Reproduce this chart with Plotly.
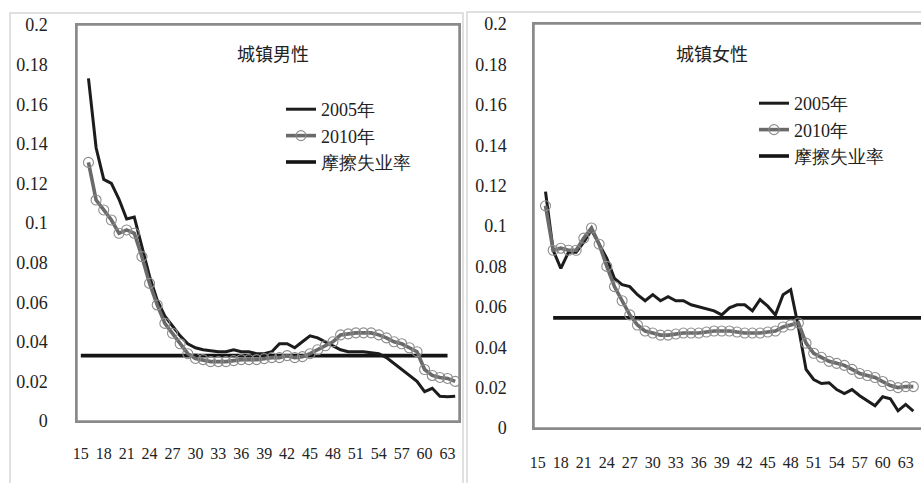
import plotly.graph_objects as go

W, H = 921, 483

ages = list(range(16, 65))

male_2005 = [0.173, 0.138, 0.122, 0.120, 0.112, 0.102, 0.103, 0.088, 0.073, 0.061,
             0.053, 0.048, 0.043, 0.039, 0.037, 0.036, 0.0355, 0.035, 0.035, 0.036,
             0.035, 0.035, 0.034, 0.034, 0.035, 0.039, 0.039, 0.037, 0.040, 0.043,
             0.042, 0.040, 0.038, 0.036, 0.035, 0.035, 0.035, 0.0345, 0.034, 0.032,
             0.029, 0.026, 0.023, 0.020, 0.0148, 0.0165, 0.0125, 0.0123, 0.0125]
male_2010 = [0.1306, 0.1116, 0.1066, 0.1015, 0.0948, 0.0965, 0.0948, 0.083, 0.0695, 0.0586,
             0.0493, 0.0443, 0.039, 0.034, 0.0316, 0.031, 0.030, 0.030, 0.030, 0.0305,
             0.031, 0.031, 0.031, 0.0315, 0.032, 0.032, 0.033, 0.032, 0.0325, 0.034,
             0.036, 0.038, 0.040, 0.0435, 0.044, 0.0445, 0.0445, 0.0445, 0.0435, 0.042,
             0.040, 0.039, 0.037, 0.035, 0.026, 0.023, 0.022, 0.0215, 0.020]
male_friction_ages = [15, 63]
male_friction = [0.033, 0.033]

female_2005 = [0.117, 0.088, 0.079, 0.087, 0.087, 0.092, 0.098, 0.091, 0.084, 0.074,
               0.071, 0.070, 0.066, 0.063, 0.066, 0.063, 0.065, 0.063, 0.063, 0.061,
               0.060, 0.059, 0.058, 0.056, 0.0595, 0.061, 0.061, 0.058, 0.0636, 0.0603,
               0.056, 0.066, 0.0685, 0.050, 0.029, 0.024, 0.022, 0.0224, 0.019, 0.017,
               0.019, 0.016, 0.0135, 0.011, 0.0155, 0.0145, 0.0085, 0.0117, 0.0084]
female_2010 = [0.110, 0.088, 0.089, 0.088, 0.088, 0.094, 0.099, 0.091, 0.080, 0.070,
               0.063, 0.056, 0.051, 0.048, 0.047, 0.046, 0.046, 0.0465, 0.047, 0.047,
               0.047, 0.0475, 0.048, 0.048, 0.048, 0.0475, 0.047, 0.047, 0.047, 0.0475,
               0.048, 0.050, 0.051, 0.052, 0.042, 0.037, 0.035, 0.033, 0.032, 0.031,
               0.029, 0.027, 0.026, 0.025, 0.023, 0.021, 0.020, 0.0205, 0.0205]
female_friction_ages = [17, 66]
female_friction = [0.0545, 0.0545]

x_tickvals = list(range(15, 64, 3))
y_tickvals = [0, 0.02, 0.04, 0.06, 0.08, 0.1, 0.12, 0.14, 0.16, 0.18, 0.2]
y_ticktext = ["0", "0.02", "0.04", "0.06", "0.08", "0.1", "0.12", "0.14", "0.16", "0.18", "0.2"]

names = ["2005年", "2010年", "摩擦失业率"]
titles = ["城镇男性", "城镇女性"]

C2005 = "#1c1c1c"
C2010 = "#6a6a6a"
CMARK = "#8c8c8c"
CFRIC = "#141414"
CFRAME = "#8a8a8a"

fig = go.Figure()

def add_panel(suffix, legend, y05, y10, fa, fv):
    xa = "x" + suffix
    ya = "y" + suffix
    fig.add_trace(go.Scatter(x=fa, y=fv, mode="lines", name=names[2],
                             line=dict(color=CFRIC, width=3.6), xaxis=xa, yaxis=ya,
                             legend=legend, legendrank=3))
    fig.add_trace(go.Scatter(x=ages, y=y05, mode="lines", name=names[0],
                             line=dict(color=C2005, width=3.0), xaxis=xa, yaxis=ya,
                             legend=legend, legendrank=1))
    fig.add_trace(go.Scatter(x=ages, y=y10, mode="lines+markers", name=names[1],
                             line=dict(color=C2010, width=3.6),
                             marker=dict(symbol="circle-open", size=10, color=CMARK,
                                         line=dict(width=1.1, color=CMARK)),
                             xaxis=xa, yaxis=ya, legend=legend, legendrank=2))

add_panel("", "legend", male_2005, male_2010, male_friction_ages, male_friction)
add_panel("2", "legend2", female_2005, female_2010, female_friction_ages, female_friction)

serif = "Liberation Serif"
cjk = "Liberation Serif"

def px_x(p):
    return p / W

def px_y(p):
    return 1 - p / H

def xaxis_style(ticklen):
    return dict(tickvals=x_tickvals, showgrid=False, zeroline=False,
                showline=True, mirror=True, linecolor=CFRAME, linewidth=1.5,
                automargin=False,
                ticks="outside", ticklen=ticklen, tickcolor="rgba(0,0,0,0)",
                tickfont=dict(family=serif, size=16, color="#222"))

def yaxis_style(ticklen, mirror):
    return dict(tickvals=y_tickvals, ticktext=y_ticktext, range=[0, 0.2],
                showgrid=False, zeroline=False,
                showline=True, mirror=mirror, linecolor=CFRAME, linewidth=1.5,
                automargin=False,
                ticks="outside", ticklen=ticklen, tickcolor="rgba(0,0,0,0)",
                tickfont=dict(family=serif, size=18, color="#222"))

fig.update_layout(
    width=W, height=H, autosize=False,
    margin=dict(l=0, r=0, t=0, b=0, pad=0, autoexpand=False),
    paper_bgcolor="white", plot_bgcolor="white",
    xaxis=dict(domain=[px_x(77), px_x(459)], range=[14.5, 64.5], anchor="y", **xaxis_style(17)),
    yaxis=dict(domain=[px_y(421), px_y(25)], anchor="x", **yaxis_style(24, True)),
    xaxis2=dict(domain=[px_x(534), 1.0], range=[14.5, 65.0], anchor="y2", **xaxis_style(19)),
    yaxis2=dict(domain=[px_y(428), px_y(24)], anchor="x2", **yaxis_style(22, False)),
    legend=dict(x=px_x(281), y=px_y(91), xanchor="left", yanchor="top",
                bgcolor="rgba(0,0,0,0)", font=dict(family=cjk, size=18, color="#222"),
                tracegroupgap=0, itemwidth=30, traceorder="normal"),
    legend2=dict(x=px_x(754), y=px_y(85), xanchor="left", yanchor="top",
                 bgcolor="rgba(0,0,0,0)", font=dict(family=cjk, size=18, color="#222"),
                 tracegroupgap=0, itemwidth=30, traceorder="normal"),
    showlegend=True,
)

# panel titles
fig.add_annotation(text=titles[0], x=px_x(273), y=px_y(53), xref="paper", yref="paper",
                   xanchor="center", yanchor="middle",
                   showarrow=False, font=dict(family="Noto Sans CJK SC", size=18, color="#222"))
fig.add_annotation(text=titles[1], x=px_x(712), y=px_y(53), xref="paper", yref="paper",
                   xanchor="center", yanchor="middle",
                   showarrow=False, font=dict(family="Noto Sans CJK SC", size=18, color="#222"))

# plot-area frames (paper coordinates, drawn above the plot background)
frame = dict(color=CFRAME, width=1.5)
lx0, lx1, ly0, ly1 = px_x(77), px_x(459), px_y(421), px_y(25)
rx0, ry0, ry1 = px_x(534), px_y(428), px_y(24)
for (a, b, c, d) in [(lx0, ly0, lx1, ly0), (lx0, ly1, lx1, ly1), (lx0, ly0, lx0, ly1),
                     (lx1, ly0, lx1, ly1),
                     (rx0, ry0, 1.0, ry0), (rx0, ry1, 1.0, ry1), (rx0, ry0, rx0, ry1)]:
    fig.add_shape(type="line", xref="paper", yref="paper", x0=a, y0=b, x1=c, y1=d,
                  line=frame, layer="above")

# outer chart borders
outer = dict(color="#d6d6d6", width=1.5)
fig.add_shape(type="rect", xref="paper", yref="paper", x0=px_x(10), x1=px_x(463),
              y0=px_y(490), y1=px_y(13), line=outer, layer="below")
fig.add_shape(type="rect", xref="paper", yref="paper", x0=px_x(467), x1=px_x(930),
              y0=px_y(490), y1=px_y(12), line=outer, layer="below")

fig.write_html("out.html", config={"displayModeBar": False},
               post_script="document.body.style.margin='0px';")
